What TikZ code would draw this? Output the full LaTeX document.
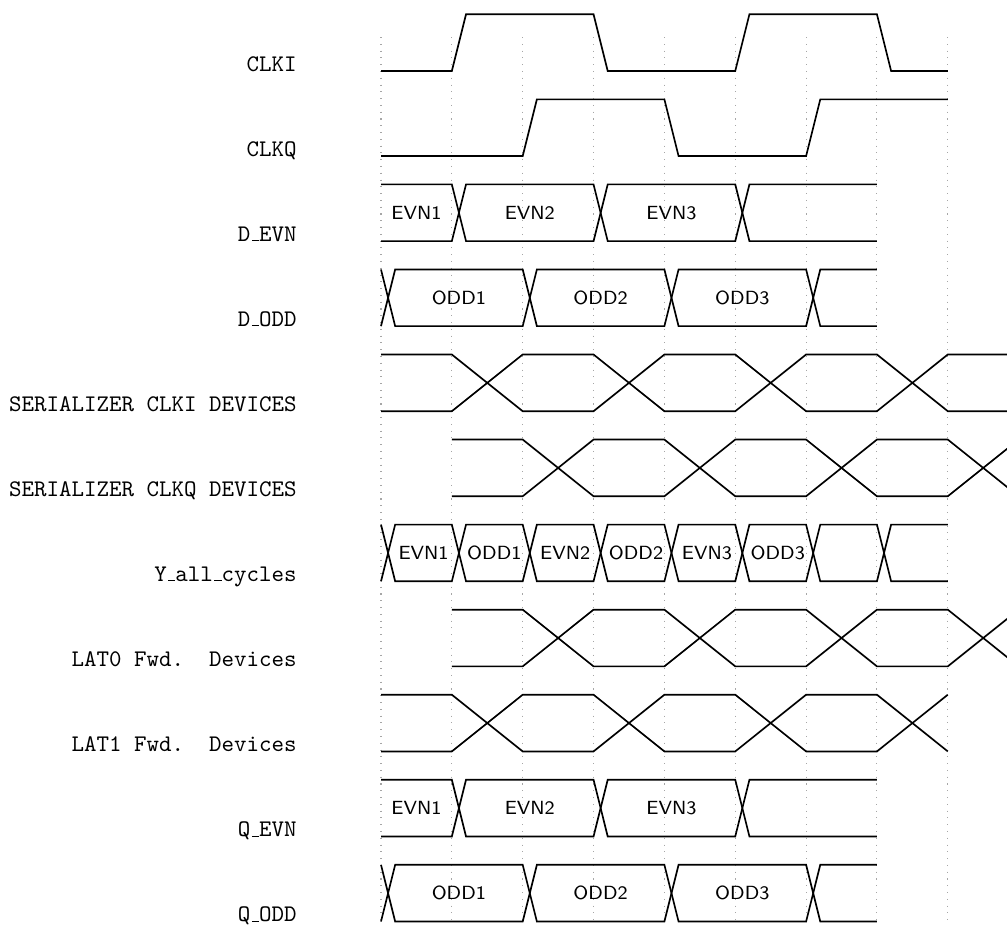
\documentclass[tikz,border=0pt]{standalone}
\usepackage{fontspec}
\newcommand{\tus}{\leavevmode\kern.06em\vbox{\hrule width.3em}}
\begin{document}
\begin{tikzpicture}[x=29.757pt,y=-0.42pt,
  sig/.style={line width=0.7pt},
  gridline/.style={gray!70,line width=0.45pt,dash pattern=on 0.45pt off 2.4pt},
  lab/.style={anchor=base east,inner sep=0pt,font=\ttfamily\fontsize{10}{12}\selectfont},
  dat/.style={inner sep=0pt,font=\sffamily\fontsize{8}{10}\selectfont},
  row/.style={shift={(0,{14.3+85.05*#1})}}]
\useasboundingbox (-5.3776,0) rectangle (8.8356,926);
% grid
\foreach \k in {0,...,8} \draw[gridline] (\k,37) -- (\k,924);
\begin{scope}
\clip (-5.3776,0) rectangle (8.8356,926);
% row 0: CLKI
\begin{scope}[row=0]
\node[lab] (lclki) at (-1.1856,56.7) {CLKI};
\draw[sig] (0,56.7) -- (1,56.7) -- (1.2,0) -- (3,0) -- (3.2,56.7) -- (5,56.7) -- (5.2,0) -- (7,0) -- (7.2,56.7) -- (8,56.7);
\end{scope}
% row 1: CLKQ
\begin{scope}[row=1]
\node[lab] (lclkq) at (-1.1856,56.7) {CLKQ};
\draw[sig] (0,56.7) -- (2,56.7) -- (2.2,0) -- (4,0) -- (4.2,56.7) -- (6,56.7) -- (6.2,0) -- (8,0);
\end{scope}
% row 2: D_EVN
\begin{scope}[row=2]
\node[lab] (ldevn) at (-1.1856,56.7) {D\tus EVN};
\draw[sig] (0,0) -- (1,0) -- (1.2,56.7) -- (3,56.7) -- (3.2,0) -- (5,0) -- (5.2,56.7) -- (7,56.7);
\draw[sig] (0,56.7) -- (1,56.7) -- (1.2,0) -- (3,0) -- (3.2,56.7) -- (5,56.7) -- (5.2,0) -- (7,0);
\node[dat] (de1) at (0.5,28.35) {EVN1};
\node[dat] (de2) at (2.1,28.35) {EVN2};
\node[dat] (de3) at (4.1,28.35) {EVN3};
\end{scope}
% row 3: D_ODD
\begin{scope}[row=3]
\node[lab] (ldodd) at (-1.1856,56.7) {D\tus ODD};
\draw[sig] (0,0) -- (0.2,56.7) -- (2,56.7) -- (2.2,0) -- (4,0) -- (4.2,56.7) -- (6,56.7) -- (6.2,0) -- (7,0);
\draw[sig] (0,56.7) -- (0.2,0) -- (2,0) -- (2.2,56.7) -- (4,56.7) -- (4.2,0) -- (6,0) -- (6.2,56.7) -- (7,56.7);
\node[dat] (do1) at (1.1,28.35) {ODD1};
\node[dat] (do2) at (3.1,28.35) {ODD2};
\node[dat] (do3) at (5.1,28.35) {ODD3};
\end{scope}
% row 4: SERIALIZER CLKI DEVICES
\begin{scope}[row=4]
\node[lab] (lsi) at (-1.1856,56.7) {SERIALIZER CLKI DEVICES};
\draw[sig] (0,0) -- (1,0) -- (2,56.7) -- (3,56.7) -- (4,0) -- (5,0) -- (6,56.7) -- (7,56.7) -- (8,0) -- (9,0);
\draw[sig] (0,56.7) -- (1,56.7) -- (2,0) -- (3,0) -- (4,56.7) -- (5,56.7) -- (6,0) -- (7,0) -- (8,56.7) -- (9,56.7);
\end{scope}
% row 5: SERIALIZER CLKQ DEVICES
\begin{scope}[row=5]
\node[lab] (lsq) at (-1.1856,56.7) {SERIALIZER CLKQ DEVICES};
\draw[sig] (1,0) -- (2,0) -- (3,56.7) -- (4,56.7) -- (5,0) -- (6,0) -- (7,56.7) -- (8,56.7) -- (9,0);
\draw[sig] (1,56.7) -- (2,56.7) -- (3,0) -- (4,0) -- (5,56.7) -- (6,56.7) -- (7,0) -- (8,0) -- (9,56.7);
\end{scope}
% row 6: Y_all_cycles
\begin{scope}[row=6]
\node[lab] (ly) at (-1.1856,56.7) {Y\tus all\tus cycles};
\draw[sig] (0,0) -- (0.2,56.7) -- (1,56.7) -- (1.2,0) -- (2,0) -- (2.2,56.7) -- (3,56.7) -- (3.2,0) -- (4,0) -- (4.2,56.7) -- (5,56.7) -- (5.2,0) -- (6,0) -- (6.2,56.7) -- (7,56.7) -- (7.2,0) -- (8,0);
\draw[sig] (0,56.7) -- (0.2,0) -- (1,0) -- (1.2,56.7) -- (2,56.7) -- (2.2,0) -- (3,0) -- (3.2,56.7) -- (4,56.7) -- (4.2,0) -- (5,0) -- (5.2,56.7) -- (6,56.7) -- (6.2,0) -- (7,0) -- (7.2,56.7) -- (8,56.7);
\node[dat] (y1) at (0.6,28.35) {EVN1};
\node[dat] (y2) at (1.6,28.35) {ODD1};
\node[dat] (y3) at (2.6,28.35) {EVN2};
\node[dat] (y4) at (3.6,28.35) {ODD2};
\node[dat] (y5) at (4.6,28.35) {EVN3};
\node[dat] (y6) at (5.6,28.35) {ODD3};
\end{scope}
% row 7: LAT0 Fwd. Devices
\begin{scope}[row=7]
\node[lab] (ll0) at (-1.1856,56.7) {LAT0 Fwd.\ \ Devices};
\draw[sig] (1,0) -- (2,0) -- (3,56.7) -- (4,56.7) -- (5,0) -- (6,0) -- (7,56.7) -- (8,56.7) -- (9,0);
\draw[sig] (1,56.7) -- (2,56.7) -- (3,0) -- (4,0) -- (5,56.7) -- (6,56.7) -- (7,0) -- (8,0) -- (9,56.7);
\end{scope}
% row 8: LAT1 Fwd. Devices
\begin{scope}[row=8]
\node[lab] (ll1) at (-1.1856,56.7) {LAT1 Fwd.\ \ Devices};
\draw[sig] (0,0) -- (1,0) -- (2,56.7) -- (3,56.7) -- (4,0) -- (5,0) -- (6,56.7) -- (7,56.7) -- (8,0);
\draw[sig] (0,56.7) -- (1,56.7) -- (2,0) -- (3,0) -- (4,56.7) -- (5,56.7) -- (6,0) -- (7,0) -- (8,56.7);
\end{scope}
% row 9: Q_EVN
\begin{scope}[row=9]
\node[lab] (lqevn) at (-1.1856,56.7) {Q\tus EVN};
\draw[sig] (0,0) -- (1,0) -- (1.2,56.7) -- (3,56.7) -- (3.2,0) -- (5,0) -- (5.2,56.7) -- (7,56.7);
\draw[sig] (0,56.7) -- (1,56.7) -- (1.2,0) -- (3,0) -- (3.2,56.7) -- (5,56.7) -- (5.2,0) -- (7,0);
\node[dat] (qe1) at (0.5,28.35) {EVN1};
\node[dat] (qe2) at (2.1,28.35) {EVN2};
\node[dat] (qe3) at (4.1,28.35) {EVN3};
\end{scope}
% row 10: Q_ODD
\begin{scope}[row=10]
\node[lab] (lqodd) at (-1.1856,56.7) {Q\tus ODD};
\draw[sig] (0,0) -- (0.2,56.7) -- (2,56.7) -- (2.2,0) -- (4,0) -- (4.2,56.7) -- (6,56.7) -- (6.2,0) -- (7,0);
\draw[sig] (0,56.7) -- (0.2,0) -- (2,0) -- (2.2,56.7) -- (4,56.7) -- (4.2,0) -- (6,0) -- (6.2,56.7) -- (7,56.7);
\node[dat] (qo1) at (1.1,28.35) {ODD1};
\node[dat] (qo2) at (3.1,28.35) {ODD2};
\node[dat] (qo3) at (5.1,28.35) {ODD3};
\end{scope}
\end{scope}
\end{tikzpicture}
\end{document}
